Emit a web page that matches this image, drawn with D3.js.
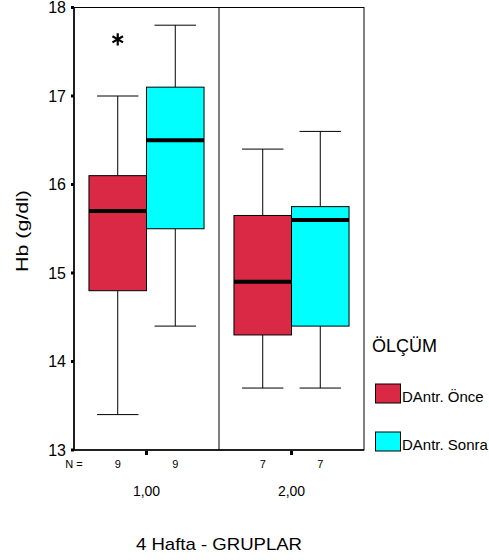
<!DOCTYPE html>
<html>
<head>
<meta charset="utf-8">
<script src="https://cdn.jsdelivr.net/npm/d3@7"></script>
<style>
body { margin: 0; background: #fff; }
text { font-family: Arial, "Liberation Sans", sans-serif; fill: #000; }
</style>
</head>
<body>
<div id="chart"></div>
<script>
// groups and series
var groups = ['1,00', '2,00'];
var series = ['DAntr. Önce', 'DAntr. Sonra'];
var colors = ['#d92944', '#00ffff'];
var counts = [[9, 9], [7, 7]];
// [min, q1, median, q3, max] per group, per series
var statsOnce = [[13.4, 14.8, 15.7, 16.1, 17.0], [13.7, 14.3, 14.9, 15.65, 16.4]];
var statsSonra = [[14.4, 15.5, 16.5, 17.1, 17.8], [13.7, 14.4, 15.6, 15.75, 16.6]];
var outliers = [{ g: 0, s: 0, v: 17.64 }];
var yTicks = [13, 14, 15, 16, 17, 18];

var W = 489, H = 560;
var pLeft = 74, pRight = 364, pTop = 7.5, pBottom = 450;

var svg = d3.select('#chart').append('svg').attr('width', W).attr('height', H);

var x = d3.scaleBand().domain(groups).range([pLeft, pRight]).paddingInner(0).paddingOuter(0);
var xs = d3.scaleBand().domain(series).range([0, x.bandwidth()]).paddingInner(0).paddingOuter(0.26);
var y = d3.scaleLinear().domain([13, 18]).range([pBottom, pTop]);

// frame
svg.append('rect').attr('x', pLeft).attr('y', pTop).attr('width', pRight - pLeft).attr('height', pBottom - pTop)
    .attr('fill', 'none').attr('stroke', '#000').attr('stroke-width', 1);
// separator between groups
svg.append('line').attr('x1', x('2,00')).attr('x2', x('2,00')).attr('y1', pTop).attr('y2', pBottom)
    .attr('stroke', '#000');
// heavier axis lines
svg.append('line').attr('x1', pLeft).attr('x2', pLeft).attr('y1', pTop).attr('y2', pBottom).attr('stroke', '#000').attr('stroke-width', 1.5);
svg.append('line').attr('x1', pLeft).attr('x2', pRight).attr('y1', pBottom).attr('y2', pBottom).attr('stroke', '#000').attr('stroke-width', 1.5);

// y axis ticks and labels
var yAxis = svg.append('g');
yTicks.forEach(function(t) {
    yAxis.append('rect').attr('x', pLeft - 3).attr('y', y(t) - 1.5).attr('width', 3).attr('height', 3).attr('fill', '#000');
    yAxis.append('text').attr('x', 66).attr('y', y(t) + 5.5).attr('text-anchor', 'end')
        .attr('font-size', 16).text(t);
});
svg.append('text').attr('transform', 'translate(28,231) rotate(-90)')
    .attr('text-anchor', 'middle').attr('font-size', 16)
    .attr('textLength', 82).attr('lengthAdjust', 'spacingAndGlyphs').text('Hb (g/dl)');

// x ticks
groups.forEach(function(g, i) {
    var cx = x(g) + x.bandwidth() / 2;
    svg.append('rect').attr('x', cx - 1.5).attr('y', pBottom + 1).attr('width', 3).attr('height', 4).attr('fill', '#000');
    svg.append('text').attr('x', cx).attr('y', 496).attr('text-anchor', 'middle').attr('font-size', 14).text(g);
    series.forEach(function(s, j) {
        svg.append('text').attr('x', x(g) + xs(s) + xs.bandwidth() / 2).attr('y', 468)
            .attr('text-anchor', 'middle').attr('font-size', 11).text(counts[i][j]);
    });
});
svg.append('text').attr('x', 74).attr('y', 468).attr('text-anchor', 'middle').attr('font-size', 11).text('N =');
svg.append('text').attr('x', 219).attr('y', 550).attr('text-anchor', 'middle').attr('font-size', 17)
    .attr('textLength', 166).attr('lengthAdjust', 'spacingAndGlyphs').text('4 Hafta - GRUPLAR');

// boxes
var allStats = [statsOnce, statsSonra];
groups.forEach(function(g, i) {
    series.forEach(function(s, j) {
        var st = allStats[j][i];
        var bx = x(g) + xs(s), bw = xs.bandwidth(), cx = bx + bw / 2, cap = bw * 0.36;
        var b = svg.append('g');
        b.append('line').attr('x1', cx).attr('x2', cx).attr('y1', y(st[4])).attr('y2', y(st[3])).attr('stroke', '#000');
        b.append('line').attr('x1', cx).attr('x2', cx).attr('y1', y(st[1])).attr('y2', y(st[0])).attr('stroke', '#000');
        b.append('line').attr('x1', cx - cap).attr('x2', cx + cap).attr('y1', y(st[4])).attr('y2', y(st[4])).attr('stroke', '#000');
        b.append('line').attr('x1', cx - cap).attr('x2', cx + cap).attr('y1', y(st[0])).attr('y2', y(st[0])).attr('stroke', '#000');
        b.append('rect').attr('x', bx).attr('y', y(st[3])).attr('width', bw).attr('height', y(st[1]) - y(st[3]))
            .attr('fill', colors[j]).attr('stroke', '#000').attr('stroke-width', 1);
        b.append('line').attr('x1', bx).attr('x2', bx + bw).attr('y1', y(st[2])).attr('y2', y(st[2]))
            .attr('stroke', '#000').attr('stroke-width', 4);
    });
});

// outlier star
var star = d3.symbol().type(d3.symbolAsterisk).size(105);
outliers.forEach(function(o) {
    var cx = x(groups[o.g]) + xs(series[o.s]) + xs.bandwidth() / 2;
    svg.append('path').attr('d', star()).attr('transform', 'translate(' + cx + ',' + y(o.v) + ')')
        .attr('fill', 'none').attr('stroke', '#000').attr('stroke-width', 2.2);
});

// legend
svg.append('text').attr('x', 372).attr('y', 352).attr('font-size', 18).text('ÖLÇÜM');
series.forEach(function(s, j) {
    var ly = 384 + j * 48;
    svg.append('rect').attr('x', 375.5).attr('y', ly).attr('width', 25).attr('height', 19)
        .attr('fill', colors[j]).attr('stroke', '#000');
    svg.append('text').attr('x', 402).attr('y', ly + 18).attr('font-size', 15).text(s);
});
</script>
</body>
</html>
